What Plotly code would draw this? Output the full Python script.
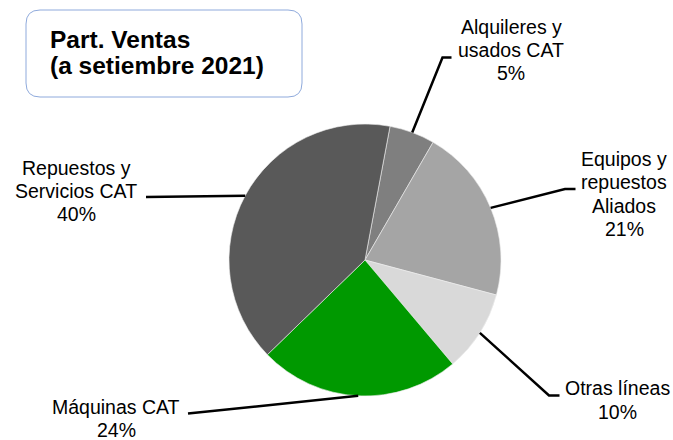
import math
import plotly.graph_objects as go

# ---------------- data ----------------
categories = ["Alquileres y usados CAT", "Equipos y repuestos Aliados", "Otras líneas",
              "Máquinas CAT", "Repuestos y Servicios CAT"]
label_lines = [["Alquileres y", "usados CAT"], ["Equipos y", "repuestos", "Aliados"],
               ["Otras líneas"], ["Máquinas CAT"], ["Repuestos y", "Servicios CAT"]]
shares = [5.4, 20.8, 9.7, 23.9, 40.2]
colors = ["#7f7f7f", "#a5a5a5", "#d9d9d9", "#009900", "#595959"]
title_lines = ["Part. Ventas", "(a setiembre 2021)"]

# ---------------- layout constants ----------------
W, H = 673, 440
CX, CY, R = 365, 260, 136
ROTATION = 10.6
LINE_H = 23.3
FONT = "Liberation Sans, Arial, sans-serif"

# label text block centres (x, middle y), leader elbows and ends (pixels)
label_pos = [(511, 50), (624, 194), (617.5, 400), (116, 418.5), (76, 191)]
leader_elbow = [(442.5, 57.5), (565, 189), (549, 395.5), None, None]
leader_end = [(451.5, 57.5), (575.5, 189), (559.5, 395.5), (188, 413.5), (146, 197)]


def px(x):
    return x / W


def py(y):
    return 1 - y / H


fig = go.Figure(go.Pie(
    labels=categories, values=shares, sort=False, direction="clockwise",
    rotation=ROTATION, textinfo="none", hoverinfo="label+percent",
    marker=dict(colors=colors, line=dict(color="#eeeeee", width=0.6)),
    domain=dict(x=[px(CX - R), px(CX + R)], y=[py(CY + R), py(CY - R)]),
))

total = sum(shares)
annotations = []
shapes = []
cum = 0.0
for i, v in enumerate(shares):
    mid = math.radians(ROTATION + (cum + v / 2) / total * 360)
    cum += v
    sx, sy = CX + R * math.sin(mid), CY - R * math.cos(mid)
    pts = [(sx, sy)]
    if leader_elbow[i] is not None:
        pts.append(leader_elbow[i])
    pts.append(leader_end[i])
    path = "M " + " L ".join(f"{px(x)},{py(y)}" for x, y in pts)
    shapes.append(dict(type="path", xref="paper", yref="paper", path=path,
                       line=dict(color="black", width=2.5)))
    lines = label_lines[i] + [f"{round(v / total * 100)}%"]
    cx, cy = label_pos[i]
    n = len(lines)
    for k, t in enumerate(lines):
        yy = cy + (k - (n - 1) / 2) * LINE_H
        annotations.append(dict(text=t, x=px(cx), y=py(yy), xref="paper", yref="paper",
                                xanchor="center", yanchor="middle", showarrow=False,
                                font=dict(family=FONT, size=19.5, color="#000000")))

# title box
x0, y0, x1, y1, rr = 26, 10, 302, 97, 14
box = (f"M {px(x0 + rr)},{py(y0)} L {px(x1 - rr)},{py(y0)} Q {px(x1)},{py(y0)} {px(x1)},{py(y0 + rr)} "
       f"L {px(x1)},{py(y1 - rr)} Q {px(x1)},{py(y1)} {px(x1 - rr)},{py(y1)} "
       f"L {px(x0 + rr)},{py(y1)} Q {px(x0)},{py(y1)} {px(x0)},{py(y1 - rr)} "
       f"L {px(x0)},{py(y0 + rr)} Q {px(x0)},{py(y0)} {px(x0 + rr)},{py(y0)} Z")
shapes.append(dict(type="path", xref="paper", yref="paper", path=box,
                   line=dict(color="#8faadc", width=1), fillcolor="white", layer="below"))

for k, t in enumerate(title_lines):
    annotations.append(dict(text=f"<b>{t}</b>", x=px(47.5), y=py(39.7 + k * 26.2),
                            xref="paper", yref="paper", xanchor="left", yanchor="middle",
                            showarrow=False, font=dict(family=FONT, size=24.5, color="black")))

fig.update_layout(width=W, height=H, margin=dict(l=0, r=0, t=0, b=0),
                  paper_bgcolor="white", plot_bgcolor="white", showlegend=False,
                  shapes=shapes, annotations=annotations)

fig.write_html("out.html", config={"displayModeBar": False},
               post_script="document.body.style.margin='0';document.body.style.overflow='hidden';")
